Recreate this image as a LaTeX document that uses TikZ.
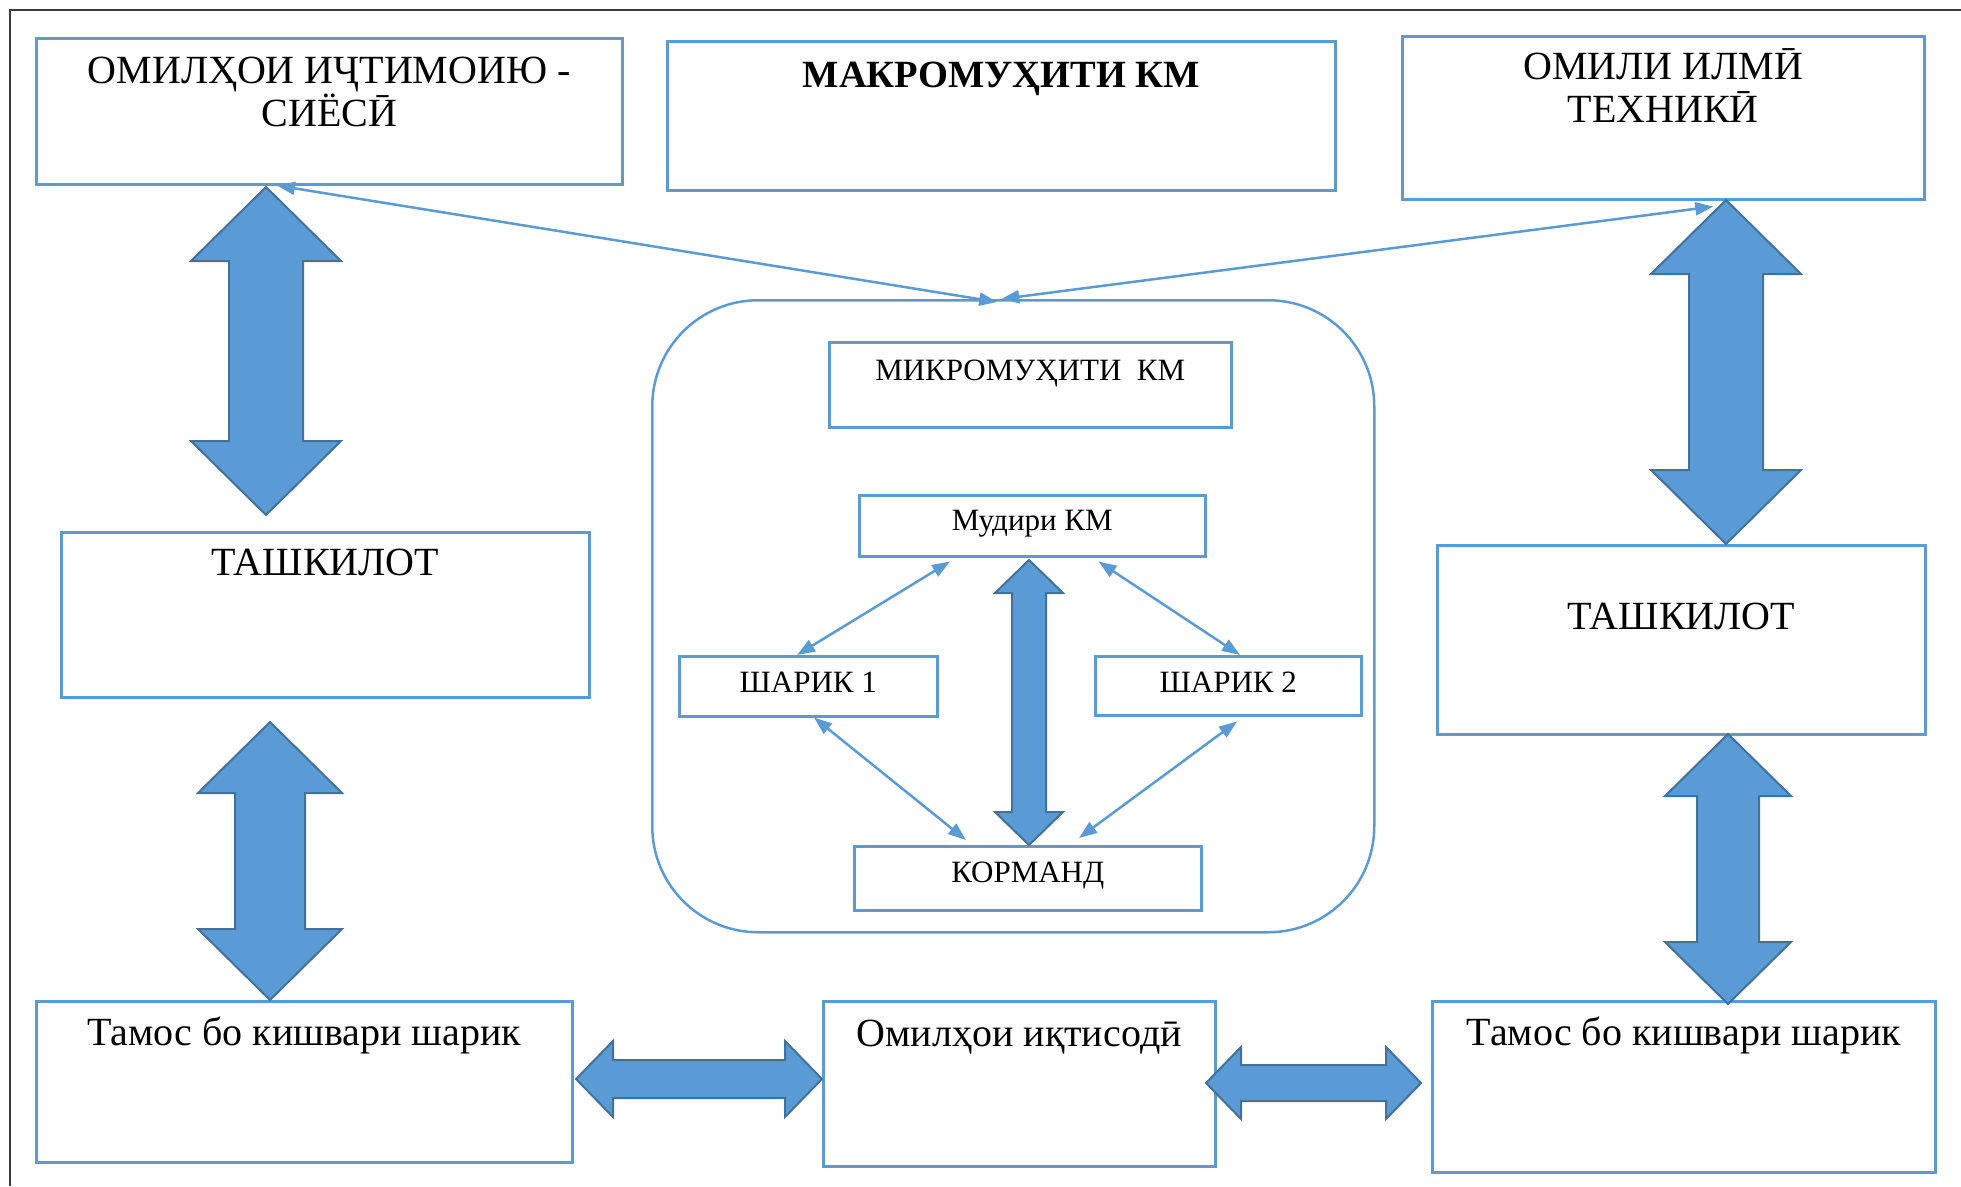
\documentclass[tikz,border=0pt]{standalone}
\usepackage{fontspec}
\setmainfont{Liberation Serif}
\usetikzlibrary{arrows.meta}

\definecolor{boxblue}{RGB}{91,155,213}
\definecolor{arrowedge}{RGB}{65,113,156}
\definecolor{framegray}{RGB}{60,60,60}

% text block inside a box: width, height, top gap, text
\newcommand{\inbox}[4]{\parbox[c][#2pt][t]{#1pt}{\lineskiplimit=-100pt\centering\vspace*{#3pt}\strut #4}}
% vertical block arrow: x, y top, y bottom, head half, shaft half, head length
\newcommand{\vbig}[6]{%
  \filldraw[blockarrow] (#1,#2) -- ({#1+#4},{#2+#6}) -- ({#1+#5},{#2+#6}) -- ({#1+#5},{#3-#6})
    -- ({#1+#4},{#3-#6}) -- (#1,#3) -- ({#1-#4},{#3-#6}) -- ({#1-#5},{#3-#6})
    -- ({#1-#5},{#2+#6}) -- ({#1-#4},{#2+#6}) -- cycle;}
% horizontal block arrow: x left, x right, y centre, head half, shaft half, head length
\newcommand{\hbig}[6]{%
  \filldraw[blockarrow] (#1,#3) -- ({#1+#6},{#3-#4}) -- ({#1+#6},{#3-#5}) -- ({#2-#6},{#3-#5})
    -- ({#2-#6},{#3-#4}) -- (#2,#3) -- ({#2-#6},{#3+#4}) -- ({#2-#6},{#3+#5})
    -- ({#1+#6},{#3+#5}) -- ({#1+#6},{#3+#4}) -- cycle;}

\tikzset{
  cellbox/.style={draw=boxblue, line width=2.5pt, inner sep=0pt, anchor=north west, fill=white},
  bigtxt/.style={font=\fontsize{40}{43}\selectfont},
  smalltxt/.style={font=\fontsize{31}{34}\selectfont},
  link/.style={draw=boxblue, line width=2.5pt,
    {Triangle[length=18pt,width=13pt]}-{Triangle[length=18pt,width=13pt]}},
  blockarrow/.style={fill=boxblue, draw=arrowedge, line width=2pt, line join=miter},
}

\begin{document}
\begin{tikzpicture}[x=1pt,y=-1pt]
\useasboundingbox (0,0) rectangle (1961,1186);
\draw[framegray, line width=2.5pt] (10,1186) -- (10,10) -- (1961,10);

% outer factors
\node[cellbox, bigtxt] (soc) at (35,37) {\inbox{586}{146}{15}{ОМИЛҲОИ ИҶТИМОИЮ -\\СИЁСӢ}};
\node[cellbox, bigtxt] (macro) at (666,40) {\inbox{668}{149}{16}{\fontsize{38.5}{43}\selectfont\bfseries МАКРОМУҲИТИ КМ}};
\node[cellbox, bigtxt] (sci) at (1401,35) {\inbox{522}{163}{12}{ОМИЛИ ИЛМӢ\\ТЕХНИКӢ}};
\node[cellbox, bigtxt] (orgL) at (60,531) {\inbox{528}{165}{13}{ТАШКИЛОТ}};
\node[cellbox, bigtxt] (orgR) at (1436,544) {\inbox{488}{189}{54}{ТАШКИЛОТ}};
\node[cellbox, bigtxt] (tamosL) at (35,1000) {\inbox{536}{161}{14}{Тамос бо кишвари шарик}};
\node[cellbox, bigtxt] (econ) at (822,1000) {\inbox{392}{165}{15}{Омилҳои иқтисодӣ}};
\node[cellbox, bigtxt] (tamosR) at (1431,1000) {\inbox{503}{171}{14}{Тамос бо кишвари шарик}};

% micro environment
\node[draw=boxblue, line width=2.5pt, rounded corners=106pt, minimum width=722pt,
  minimum height=632pt, anchor=north west, inner sep=0pt] (env) at (651,299) {};
\node[cellbox, smalltxt] (micro) at (828,341) {\inbox{402}{85}{14}{МИКРОМУҲИТИ\ \ КМ}};
\node[cellbox, smalltxt] (mudir) at (858,494) {\inbox{346}{61}{11}{Мудири КМ}};
\node[cellbox, smalltxt] (sh1) at (678,655) {\inbox{258}{60}{12}{ШАРИК 1}};
\node[cellbox, smalltxt] (sh2) at (1094,655) {\inbox{266}{59}{12}{ШАРИК 2}};
\node[cellbox, smalltxt] (korm) at (853,845) {\inbox{347}{64}{12}{КОРМАНД}};

\draw[link] ([xshift=242pt]soc.south west) -- ([xshift=-16pt,yshift=-3pt]env.north);
\draw[link] ([xshift=50pt,yshift=-6pt]sci.south) -- ([xshift=-12pt]env.north);
\draw[link] ([xshift=92pt,yshift=-4pt]mudir.south west) -- ([xshift=119pt]sh1.north west);
\draw[link] ([xshift=-108pt,yshift=-4pt]mudir.south east) -- ([xshift=146pt]sh2.north west);
\draw[link] ([xshift=136pt]sh1.south west) -- ([xshift=113pt,yshift=5pt]korm.north west);
\draw[link] ([xshift=143pt,yshift=-5pt]sh2.south west) -- ([xshift=226pt,yshift=7pt]korm.north west);

% block arrows
\vbig{266}{187}{515}{75}{37}{74}
\vbig{270}{722}{1000}{72}{35}{71}
\vbig{1726}{200}{544}{75}{37}{74}
\vbig{1728}{734}{1004}{63}{31}{62}
\vbig{1029}{560}{845}{34}{17}{33}
\hbig{576}{822}{1079}{38}{19}{37}
\hbig{1206}{1421}{1083}{36}{18}{35}

\end{tikzpicture}
\end{document}
